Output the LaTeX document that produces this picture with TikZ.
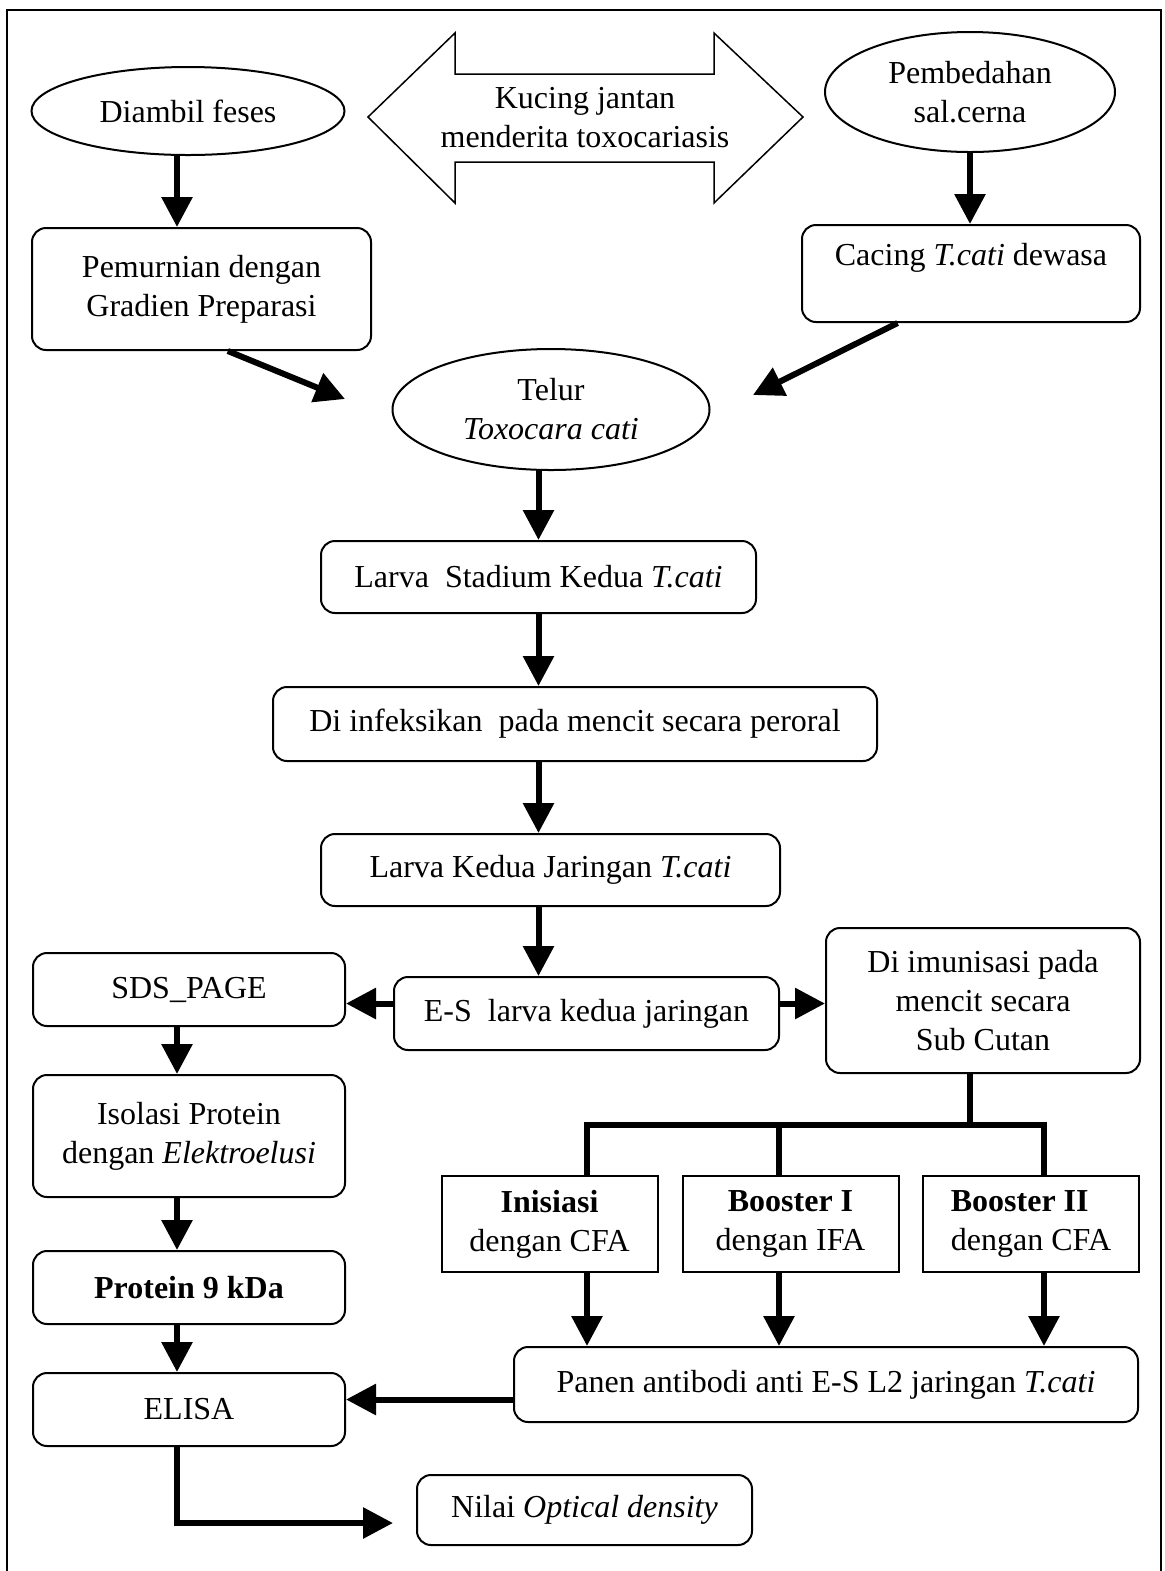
\documentclass[tikz,border=0pt]{standalone}
\usepackage{fontspec}
\setmainfont{Liberation Serif}
\usetikzlibrary{arrows.meta,shapes.geometric,calc}
\newdimen\upx
\upx=0.5pt

\begin{document}
\begin{tikzpicture}[x=0.5pt, y=-0.5pt,
  every node/.style={font=\fontsize{16}{19.5}\selectfont, align=center, inner sep=0pt},
  box/.style={draw, line width=1pt, rounded corners=7pt},
  sharpbox/.style={draw, line width=1pt},
  oval/.style={draw, line width=1pt, ellipse},
  arr/.style={line width=3pt, -{Triangle[length=15pt,width=15pt]}}]
\useasboundingbox (0,0) rectangle (1165,1571);
%frame, open at the bottom
\draw[line width=1pt] (7,1571) -- (7,10) -- (1161,10) -- (1161,1571);

%top row
\node[oval, minimum width=313\upx, minimum height=88\upx] (diambil) at (188,111) {Diambil feses};
\draw[line width=0.75pt] (368,117) -- (455,33) -- (455,74) -- (714,74) -- (714,33) -- (803,117)
  -- (714,203) -- (714,162) -- (455,162) -- (455,203) -- cycle;
\node (kucing) at (585,118) {Kucing jantan\\menderita toxocariasis};
\node[oval, minimum width=290\upx, minimum height=120\upx] (bedah) at (970,92) {Pembedahan\\sal.cerna};
\node[box, minimum width=339\upx, minimum height=122\upx] (murni) at (201.5,289) {Pemurnian dengan\\Gradien Preparasi};
\node[box, minimum width=338\upx, minimum height=97\upx] (cacing) at (971,273.5) {Cacing \textit{T.cati} dewasa\\\mbox{}};
\node[oval, minimum width=317\upx, minimum height=121\upx] (telur) at (551,409.5) {Telur\\\textit{Toxocara cati}};
%where the slanted arrows stop
\coordinate (telurL) at (345,399);
\coordinate (telurR) at (753,395);

%middle column
\node[box, minimum width=435\upx, minimum height=72\upx] (larva) at (538.5,577) {Larva\ \ Stadium Kedua \textit{T.cati}};
\node[box, minimum width=604\upx, minimum height=74\upx] (infeksi) at (575,724) {Di infeksikan\ \ pada mencit secara peroral};
\node[box, minimum width=459\upx, minimum height=72\upx] (jaringan) at (550.5,870) {Larva Kedua Jaringan \textit{T.cati}};
\node[box, minimum width=385\upx, minimum height=73\upx] (es) at (586.5,1013.5) {E-S\ \ larva kedua jaringan};
\node[box, minimum width=314\upx, minimum height=145\upx] (imun) at (983,1000.5) {Di imunisasi pada\\mencit secara\\Sub Cutan};

%left column
\begin{scope}[every node/.append style={box, minimum width=312\upx, minimum height=73\upx}]
\node (sds) at (189,989.5) {SDS\_PAGE};
\node[minimum height=122\upx] (isolasi) at (189,1136) {Isolasi Protein\\dengan \textit{Elektroelusi}};
\node (protein) at (189,1287.5) {\textbf{Protein 9 kDa}};
\node (elisa) at (189,1409.5) {ELISA};
\end{scope}

%immunisation steps
\begin{scope}[every node/.append style={sharpbox, minimum width=216\upx, minimum height=96\upx}]
\node (inisiasi) at (549.5,1224) {\textbf{Inisiasi}\\dengan CFA};
\node (boost1) at (790.5,1224) {\textbf{Booster I}\\dengan IFA};
\node[align=left] (boost2) at (1031,1224) {\textbf{Booster II}\\dengan CFA};
\end{scope}
\node[box, minimum width=624\upx, minimum height=75\upx] (panen) at (826,1384.5) {Panen antibodi anti E-S L2 jaringan \textit{T.cati}};
\node[box, minimum width=335\upx, minimum height=70\upx] (nilai) at (584.5,1510) {Nilai \textit{Optical density}};

%arrows
\draw[arr] ([xshift=-11\upx]diambil.south) -- ([xshift=-11\upx]diambil.south |- murni.north);
\draw[arr] (bedah.south) -- (bedah.south |- cacing.north);
\draw[arr] (murni.-67) -- (telurL);
\draw[arr] (cacing.214) -- (telurR);
\draw[arr] (telur.south -| larva.north) -- (larva.north);
\draw[arr] (larva.south) -- (larva.south |- infeksi.north);
\draw[arr] (larva.south |- infeksi.south) -- (larva.south |- jaringan.north);
\draw[arr] (larva.south |- jaringan.south) -- (larva.south |- es.north);
\draw[arr] ([yshift=10\upx]es.west) -- ([yshift=10\upx]es.west -| sds.east);
\draw[arr] ([yshift=10\upx]es.east) -- ([yshift=10\upx]es.east -| imun.west);

%branches
\coordinate (split) at (970,1125);
\coordinate (br1) at (587,1125);
\coordinate (br2) at (779,1125);
\coordinate (br3) at (1044,1125);
\draw[line width=3pt] (imun.south -| split) -- (split);
\draw[line width=3pt, line cap=rect] (br1) -- (br3);
\foreach \b/\n in {br1/inisiasi, br2/boost1, br3/boost2} {
  \draw[line width=3pt] (\b) -- (\b |- \n.north);
  \draw[arr] (\b |- \n.south) -- (\b |- panen.north);
}
\draw[arr] ([yshift=-15\upx]panen.west) -- ([yshift=-15\upx]panen.west -| elisa.east);

%left column arrows
\draw[arr] ([xshift=-12\upx]sds.south) -- ([xshift=-12\upx]isolasi.north);
\draw[arr] ([xshift=-12\upx]isolasi.south) -- ([xshift=-12\upx]protein.north);
\draw[arr] ([xshift=-12\upx]protein.south) -- ([xshift=-12\upx]elisa.north);
\draw[arr, shorten >=23\upx] ([xshift=-12\upx]elisa.south) |- ([yshift=-13\upx]nilai.west);
\end{tikzpicture}
\end{document}
